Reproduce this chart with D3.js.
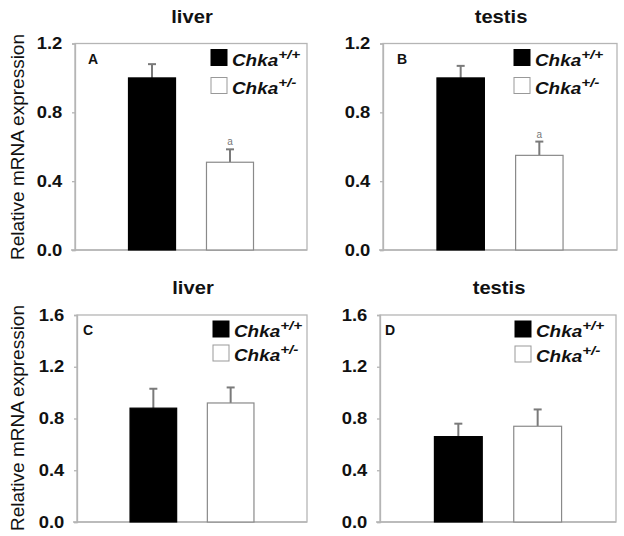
<!DOCTYPE html>
<html>
<head>
<meta charset="utf-8">
<script src="https://cdn.jsdelivr.net/npm/d3@7"></script>
<style>
  html, body { margin: 0; padding: 0; background: #fff; }
  svg { display: block; font-family: Arial, "Liberation Sans", sans-serif; }
</style>
</head>
<body>
<svg id="chart" width="624" height="536"></svg>
<script>
// ---- data ----
const genotypes = ["+/+", "+/-"];
const genotypeBase = "Chka";
const panelLetters = ["A", "B", "C", "D"];
const panelTitles = ["liver", "testis", "liver", "testis"];
const means = [[1.00, 0.51], [1.00, 0.55], [0.88, 0.92], [0.66, 0.74]];
const errors = [[0.08, 0.075], [0.07, 0.08], [0.15, 0.12], [0.10, 0.13]];
const significance = [["", "a"], ["", "a"], ["", ""], ["", ""]];
const yMax = [1.2, 1.2, 1.6, 1.6];
const yTicks = [[0, 0.4, 0.8, 1.2], [0, 0.4, 0.8, 1.2], [0, 0.4, 0.8, 1.2, 1.6], [0, 0.4, 0.8, 1.2, 1.6]];
const yLabel = "Relative mRNA expression";

// ---- layout ----
const frames = [
  { x: 75, y: 43.5, w: 232, h: 206.5, legDy: 28, lx: 136, letX: 13 },
  { x: 383, y: 43.5, w: 234, h: 206.5, legDy: 28, lx: 131, letX: 14 },
  { x: 77, y: 315, w: 230, h: 207, legDy: 24, lx: 136, letX: 6 },
  { x: 380, y: 315, w: 236, h: 207, legDy: 25, lx: 135, letX: 5 }
];
const fills = ["#000", "#fff"];
const frameColor = "#b5b5b5";
const errColor = "#7a7a7a";

const svg = d3.select("#chart");

frames.forEach((f, i) => {
  const g = svg.append("g");
  const x = d3.scaleBand().domain(genotypes).range([f.x, f.x + f.w])
    .paddingInner(0.397).paddingOuter(0.686);
  const y = d3.scaleLinear().domain([0, yMax[i]]).range([f.y + f.h, f.y]);

  // frame (top/right)
  g.append("rect").attr("x", f.x).attr("y", f.y).attr("width", f.w).attr("height", f.h)
    .attr("fill", "none").attr("stroke", frameColor).attr("stroke-width", 1.3);

  // y axis
  const ax = g.append("g").attr("transform", `translate(${f.x},0)`)
    .call(d3.axisLeft(y).tickValues(yTicks[i]).tickFormat(d3.format(".1f")).tickSize(3).tickPadding(8));
  ax.select(".domain").attr("stroke", frameColor).attr("stroke-width", 1.3);
  ax.selectAll(".tick line").attr("stroke", frameColor).attr("stroke-width", 1.3);
  ax.selectAll(".tick text").attr("font-size", 16).attr("font-weight", "bold")
    .attr("fill", "#111").attr("font-family", "Arial, 'Liberation Sans', sans-serif")
    .attr("transform", "scale(1.15,1)");

  // x baseline extends a bit left
  g.append("line").attr("x1", f.x - 4).attr("x2", f.x + f.w)
    .attr("y1", y(0)).attr("y2", y(0)).attr("stroke", frameColor).attr("stroke-width", 1.3);

  // error bars (upper)
  genotypes.forEach((gt, j) => {
    const cx = x(gt) + x.bandwidth() / 2;
    const top = y(means[i][j] + errors[i][j]);
    g.append("line").attr("x1", cx).attr("x2", cx).attr("y1", y(means[i][j])).attr("y2", top)
      .attr("stroke", errColor).attr("stroke-width", 2);
    g.append("line").attr("x1", cx - 4).attr("x2", cx + 4).attr("y1", top).attr("y2", top)
      .attr("stroke", errColor).attr("stroke-width", 2);
    if (significance[i][j]) {
      g.append("text").attr("x", cx).attr("y", top - 4).attr("text-anchor", "middle")
        .attr("font-size", 10).attr("fill", "#777").text(significance[i][j]);
    }
  });

  // bars
  g.selectAll("rect.bar").data(genotypes).join("rect").attr("class", "bar")
    .attr("x", d => x(d)).attr("width", x.bandwidth())
    .attr("y", (d, j) => y(means[i][j])).attr("height", (d, j) => y(0) - y(means[i][j]))
    .attr("fill", (d, j) => fills[j])
    .attr("stroke", (d, j) => j === 0 ? "#000" : "#8a8a8a").attr("stroke-width", 1.2);

  // title
  g.append("text").attr("transform", `translate(${f.x + f.w / 2 + 1},${f.y - 21}) scale(1.12,1)`)
    .attr("text-anchor", "middle").attr("font-size", 18).attr("font-weight", "bold")
    .attr("fill", "#111").text(panelTitles[i]);

  // panel letter
  g.append("text").attr("x", f.x + f.letX).attr("y", f.y + 20)
    .attr("font-size", 14).attr("font-weight", "bold").attr("fill", "#111").text(panelLetters[i]);

  // legend
  const lx = f.x + f.lx;
  genotypes.forEach((gt, j) => {
    const ly = f.y + 6 + j * f.legDy;
    g.append("rect").attr("x", lx).attr("y", ly).attr("width", 16).attr("height", 16)
      .attr("fill", fills[j]).attr("stroke", j === 0 ? "#000" : "#999").attr("stroke-width", 1);
    const t = g.append("text").attr("transform", `translate(${lx + 21},${ly + 16}) scale(1.18,1)`)
      .attr("font-size", 16).attr("font-weight", "bold").attr("font-style", "italic").attr("fill", "#111");
    t.append("tspan").text(genotypeBase);
    t.append("tspan").attr("dy", -7).attr("font-size", 13).text(gt);
  });
});

// y labels
[147, 418].forEach(cy => {
  svg.append("text").attr("transform", `translate(24,${cy}) rotate(-90)`)
    .attr("text-anchor", "middle").attr("font-size", 19).attr("fill", "#111").text(yLabel);
});
</script>
</body>
</html>
